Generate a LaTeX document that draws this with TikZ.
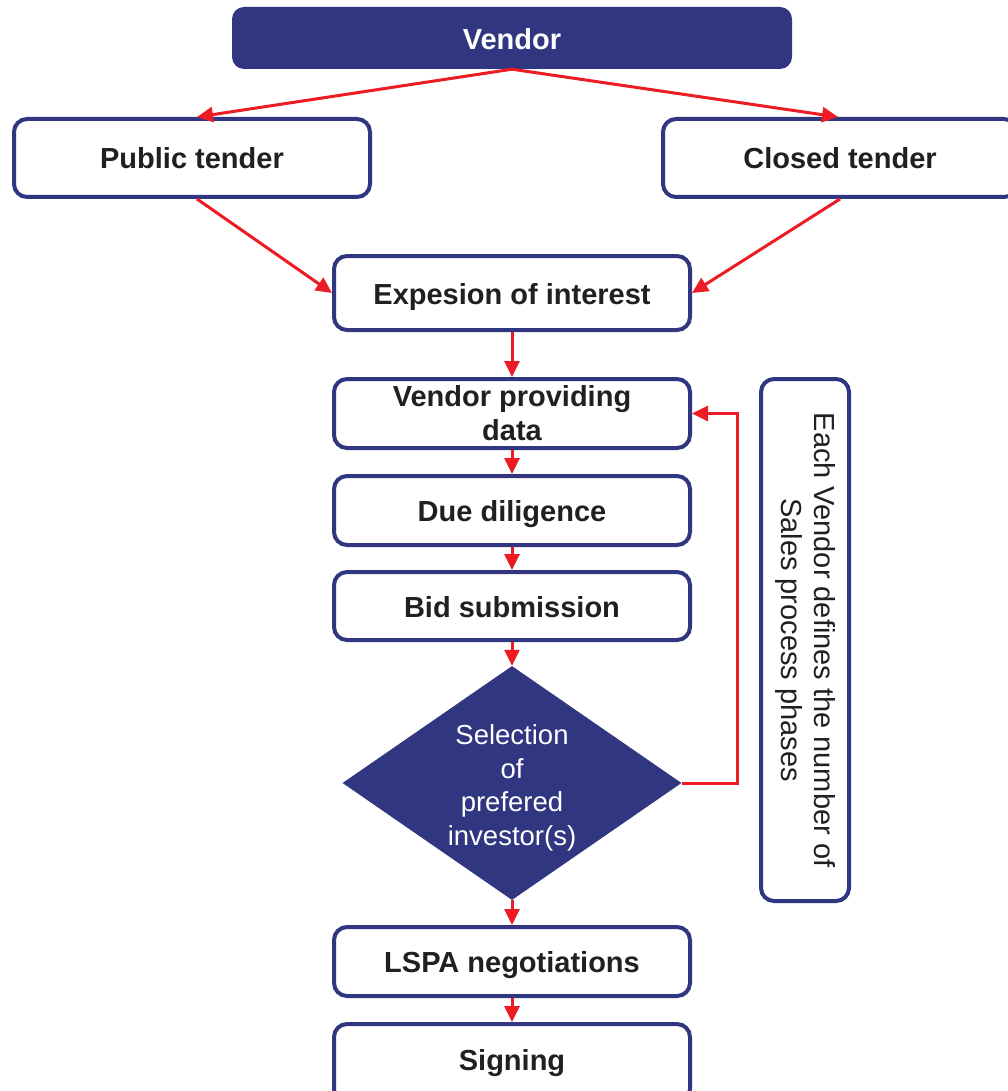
\documentclass[tikz,border=0pt]{standalone}
\usepackage{fontspec}
\setmainfont{Liberation Sans}
\usetikzlibrary{shapes.geometric,arrows.meta,calc}
\definecolor{navy}{RGB}{49,54,128}
\definecolor{redline}{RGB}{237,28,36}
\definecolor{txt}{RGB}{35,31,32}
\newcommand{\lowr}[2]{\raisebox{-#1}[\height][\depth]{#2}}
\begin{document}
\begin{tikzpicture}[x=1pt,y=-1pt,
  stepbox/.style={draw=navy,line width=4pt,rounded corners=13pt,fill=white,
    minimum width=356pt,inner sep=0pt,align=center,text=txt,
    font=\fontsize{29}{34}\selectfont\bfseries},
  topbox/.style={fill=navy,rounded corners=12pt,minimum width=560pt,minimum height=62pt,
    text=white,font=\fontsize{29}{34}\selectfont\bfseries},
  decision/.style={diamond,fill=navy,minimum width=339pt,minimum height=234pt,aspect=1.45,
    inner sep=0pt},
  dtext/.style={align=center,text=white,inner sep=0pt,font=\fontsize{27.5}{33.5}\selectfont},
  notebox/.style={draw=navy,line width=4pt,rounded corners=13pt,rotate=-90,
    minimum width=522pt,minimum height=88pt,inner sep=0pt,align=center,text=txt,
    font=\fontsize{29}{33}\selectfont},
  flow/.style={draw=redline,line width=3pt,-{Triangle[length=16pt,width=15pt]}}]
\useasboundingbox (0,0) rectangle (1008,1091);
\node[topbox] (vendor) at (512,38) {\lowr{1pt}{Vendor}};
\node[stepbox,minimum height=78pt] (pub) at (192,158) {Public tender};
\node[stepbox,minimum width=354pt,minimum height=78pt] (closed) at (840,158) {Closed tender};
\node[stepbox,minimum height=74pt] (eoi) at (512,293) {\lowr{4pt}{Expesion of interest}};
\node[stepbox,minimum height=69pt] (vpd) at (512,413.5) {Vendor providing\\data};
\node[stepbox,minimum height=69pt] (dd) at (512,510.5) {\lowr{4pt}{Due diligence}};
\node[stepbox,minimum height=68pt] (bid) at (512,606) {\lowr{1pt}{Bid submission}};
\node[decision] (sel) at (512,783) {};
\node[dtext] (seltext) at (512,788) {Selection\\of\\prefered\\investor(s)};
\node[stepbox,minimum height=69pt] (lspa) at (512,961.5) {\lowr{4pt}{LSPA negotiations}};
\node[stepbox,minimum height=78pt] (sign) at (512,1063) {Signing};
\node[notebox] (note) at (805,640) {Each Vendor defines the number of\\Sales process phases};
\draw[flow] (vendor.south) -- ($(pub.north)+(5,0)$);
\draw[flow] (vendor.south) -- ($(closed.north)+(-2,0)$);
\draw[flow] ($(pub.south)+(5,0)$) -- (eoi.west);
\draw[flow] (closed.south) -- (eoi.east);
\draw[flow] (eoi.south) -- (vpd.north);
\draw[flow] (vpd.south) -- (dd.north);
\draw[flow] (dd.south) -- (bid.north);
\draw[flow] (bid.south) -- (sel.north);
\draw[flow] (sel.south) -- (lspa.north);
\draw[flow] (lspa.south) -- (sign.north);
\draw[flow] (sel.east) -- ++(56,0) |- (vpd.east);
\end{tikzpicture}
\end{document}
